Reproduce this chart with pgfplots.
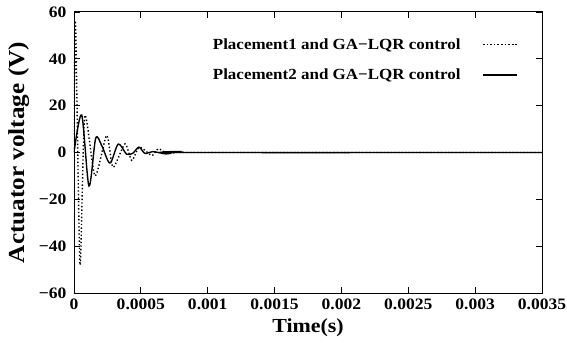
\documentclass[border=0pt]{standalone}
\usepackage{fontspec}
\setmainfont{Liberation Serif}[FakeStretch=1.1]
\usepackage{pgfplots}
\pgfplotsset{compat=1.18}
\begin{document}
\begin{tikzpicture}
\useasboundingbox (-74bp,-54bp) rectangle (493bp,293bp);
\begin{axis}[
  scale only axis,
  width=468bp, height=281bp,
  xmin=0, xmax=0.0035, ymin=-60, ymax=60,
  xtick={0,0.0005,0.001,0.0015,0.002,0.0025,0.003,0.0035},
  xticklabels={0,0.0005,0.001,0.0015,0.002,0.0025,0.003,0.0035},
  ytick={-60,-40,-20,0,20,40,60},
  yticklabels={−60,−40,−20,0,20,40,60},
  scaled x ticks=false,
  tick align=inside,
  major tick length=6bp,
  axis line style={line width=1pt},
  tick style={line width=0.8pt, black},
  tick label style={font=\fontsize{16}{18}\selectfont\bfseries},
  xticklabel style={yshift=-2bp},
  yticklabel style={xshift=-4bp},
  /pgf/number format/assume math mode=true,
  xlabel={Time(s)},
  ylabel={Actuator voltage (V)},
  xlabel style={font=\fontsize{20}{22}\selectfont\bfseries, at={(axis description cs:0.5,-0.125)}, anchor=center},
  ylabel style={font=\fontsize{23}{25}\selectfont\bfseries, at={(axis description cs:-0.118,0.5)}, anchor=center, rotate=0},
  legend style={draw=none, fill=none, at={(0.955,0.92)}, anchor=north east,
    font=\fontsize{15.5}{17}\selectfont\bfseries, row sep=14bp},
  legend plot pos=right,
  legend cell align=right,
  legend image code/.code={\path (0cm,0cm); \draw[mark repeat=2,mark phase=2] plot coordinates {(0.7cm,0cm) (1.3cm,0cm) (1.9cm,0cm)};},
]
\addplot[black, line width=1.4pt, dash pattern=on 1.4pt off 2.2pt, smooth, tension=0.4] coordinates {
(0,0) (0.0000112,56) (0.000045,-48) (0.000080,15.5) (0.000157,-10)
(0.000244,7.3) (0.000292,-6.3) (0.000381,3.7) (0.000432,-3.4)
(0.000490,2.3) (0.000583,-1.3) (0.000630,1.6) (0.000700,-0.4)
(0.000800,0.3) (0.00090,0) (0.0035,0)
};
\addlegendentry{Placement1 and GA−LQR control}
\addplot[black, line width=1.4pt, smooth, tension=0.5] coordinates {
(0,0) (0.0000575,16) (0.000112,-14.3) (0.000162,6) (0.000207,3)
(0.000269,-4.5) (0.000331,3.6) (0.000393,-0.7) (0.00044,-0.3)
(0.000486,2.3) (0.000531,-0.4) (0.000590,0.4) (0.00069,-0.6)
(0.00077,0.4) (0.00085,0) (0.0035,0)
};
\addlegendentry{Placement2 and GA−LQR control}
\end{axis}
\end{tikzpicture}
\end{document}
